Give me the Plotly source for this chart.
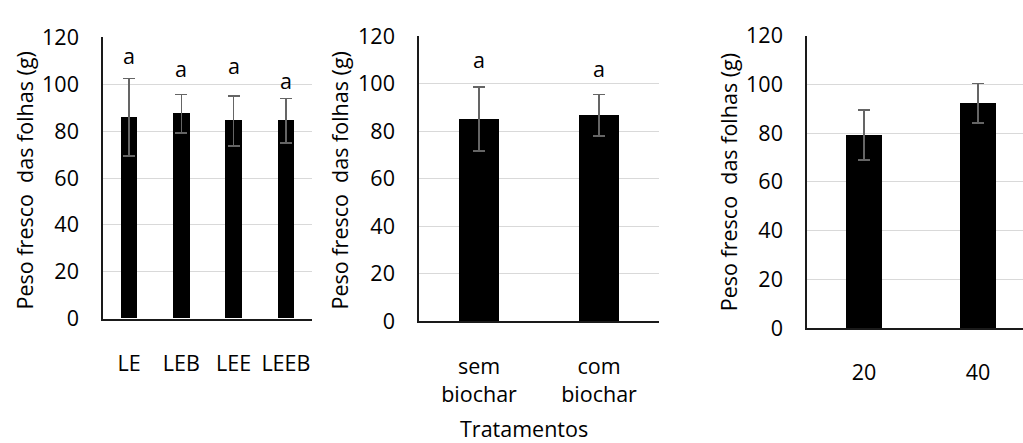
import plotly.graph_objects as go

# ---- data ----
cats1 = ["LE", "LEB", "LEE", "LEEB"]
vals1 = [86.0, 87.4, 84.4, 84.4]
err1 = [16.5, 8.3, 10.7, 9.5]
letters1 = ["a", "a", "a", "a"]
letter_y1 = [112.4, 106.9, 108.0, 101.7]

cats2 = ["sem<br>biochar", "com<br>biochar"]
vals2 = [85.2, 86.7]
err2 = [13.5, 8.7]
letters2 = ["a", "a"]
letter_y2 = [110.3, 106.6]

cats3 = ["20", "40"]
vals3 = [79.3, 92.4]
err3 = [10.3, 8.1]
letters3 = ["b", "a"]
letter_y3 = [97.2, 113.2]

y_ticks = [0, 20, 40, 60, 80, 100, 120]
y_title = "Peso fresco  das folhas (g)"
x_title = "Tratamentos"

W, H = 1023, 443
FONT = "Open Sans"
FS = 21.5

def px_x(x):
    return x / W

def px_y(y):
    return 1 - y / H

fig = go.Figure()

panels = [
    dict(cats=cats1, vals=vals1, err=err1, letters=letters1, ly=letter_y1,
         xd=[px_x(103), px_x(312)], yd=[px_y(325), px_y(24)], xr=[-0.5, 3.5], bw=0.32,
         tx=24, ty=177, xs="", xso=25),
    dict(cats=cats2, vals=vals2, err=err2, letters=letters2, ly=letter_y2,
         xd=[px_x(419), px_x(659)], yd=[px_y(327.7), px_y(22.7)], xr=[-0.5, 1.5], bw=0.33,
         tx=339, ty=177, xs="2", xso=25),
    dict(cats=cats3, vals=vals3, err=err3, letters=letters3, ly=letter_y3,
         xd=[px_x(807), 1.0], yd=[px_y(335), px_y(22.3)], xr=[-0.5, 1.395], bw=0.31,
         tx=728, ty=179, xs="3", xso=24),
]

annotations = []
for p in panels:
    s = p["xs"]
    fig.add_trace(go.Bar(
        x=p["cats"], y=p["vals"], width=p["bw"],
        marker=dict(color="black", line=dict(width=0)),
        error_y=dict(type="data", array=p["err"], color="#656565", thickness=1.6, width=6),
        xaxis="x" + s, yaxis="y" + s, showlegend=False,
    ))
    for c, t, yy in zip(p["cats"], p["letters"], p["ly"]):
        annotations.append(dict(x=c, y=yy, xref="x" + s, yref="y" + s, text=t,
                                showarrow=False, font=dict(family=FONT, size=FS, color="black"),
                                xanchor="center", yanchor="middle"))
    annotations.append(dict(x=px_x(p["tx"]), y=px_y(p["ty"]), xref="paper", yref="paper",
                            text=y_title, textangle=-90, showarrow=False,
                            font=dict(family=FONT, size=FS, color="black"),
                            xanchor="center", yanchor="middle"))
    xa = dict(domain=p["xd"], anchor="y" + s, type="category", range=p["xr"],
              showline=True, linecolor="#1a1a1a", linewidth=1.5, ticks="",
              showgrid=False, tickfont=dict(family=FONT, size=FS, color="black"),
              ticklabelstandoff=p["xso"], fixedrange=True)
    ya = dict(domain=p["yd"], anchor="x" + s, range=[0, 120], tickvals=y_ticks,
              showline=True, linecolor="#1a1a1a", linewidth=1.5, ticks="",
              showgrid=True, gridcolor="#d9d9d9", gridwidth=1.3, zeroline=False,
              tickfont=dict(family=FONT, size=FS, color="black"),
              ticklabelstandoff=18, fixedrange=True)
    fig.update_layout(**{"xaxis" + s: xa, "yaxis" + s: ya})

annotations.append(dict(x=px_x(524), y=px_y(442), xref="paper", yref="paper", text=x_title,
                        showarrow=False, font=dict(family=FONT, size=FS, color="black"),
                        xanchor="center", yanchor="middle"))

fig.update_layout(
    width=W, height=H,
    margin=dict(l=0, r=0, t=0, b=0),
    paper_bgcolor="white", plot_bgcolor="white",
    annotations=annotations,
    bargap=0,
)

fig.write_html("out.html")
